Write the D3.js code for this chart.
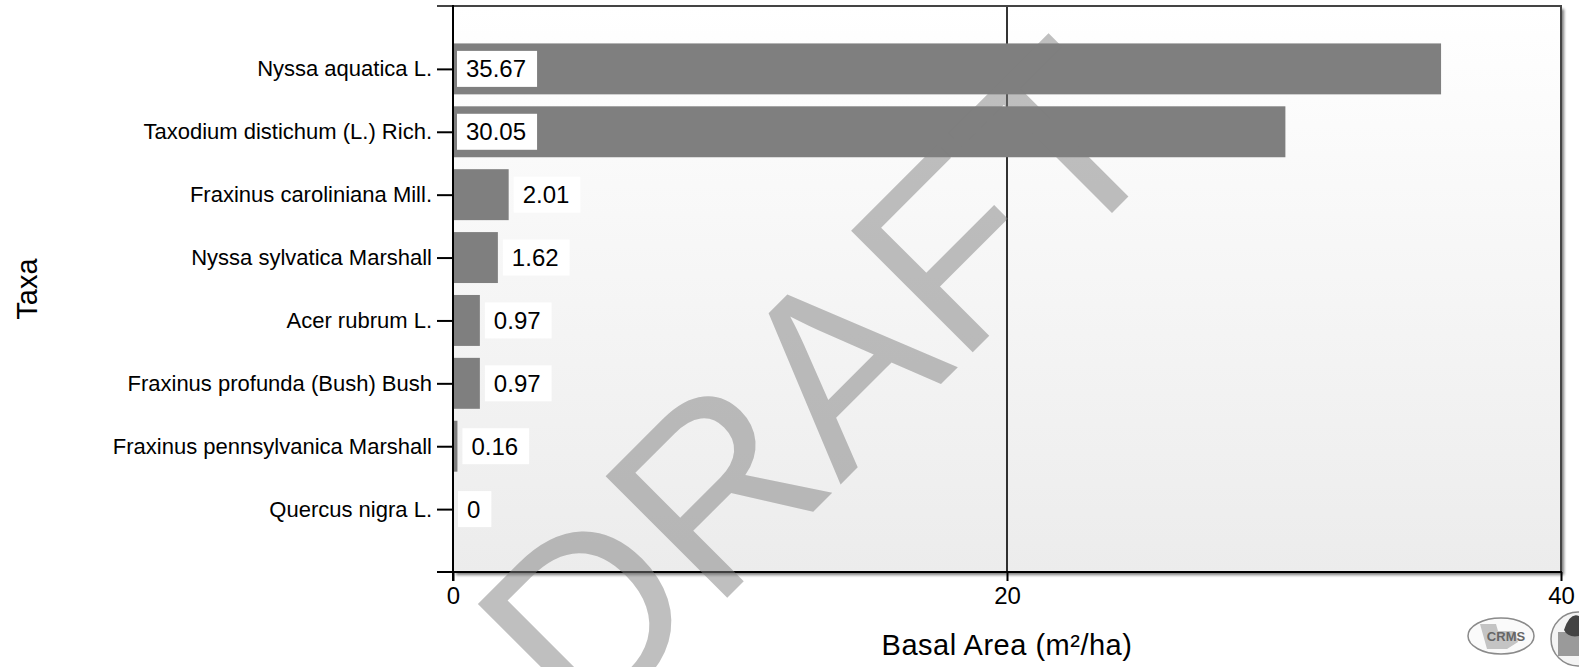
<!DOCTYPE html>
<html>
<head>
<meta charset="utf-8">
<script src="https://cdn.jsdelivr.net/npm/d3@7"></script>
<style>
  html, body { margin: 0; padding: 0; background: #fff; }
  svg { display: block; font-family: "Liberation Sans", Arial, sans-serif; }
</style>
</head>
<body>
<svg id="chart" width="1579" height="667"></svg>
<script>
// Basal area by taxon
const categories = [
  "Nyssa aquatica L.",
  "Taxodium distichum (L.) Rich.",
  "Fraxinus caroliniana Mill.",
  "Nyssa sylvatica Marshall",
  "Acer rubrum L.",
  "Fraxinus profunda (Bush) Bush",
  "Fraxinus pennsylvanica Marshall",
  "Quercus nigra L."
];
const values = [35.67, 30.05, 2.01, 1.62, 0.97, 0.97, 0.16, 0];
const valueLabels = ["35.67", "30.05", "2.01", "1.62", "0.97", "0.97", "0.16", "0"];
const xTicks = [0, 20, 40];
const xTitle = "Basal Area (m²/ha)";
const yTitle = "Taxa";
const watermark = "DRAFT";

const svg = d3.select("#chart");
const plot = { left: 453, right: 1561, top: 6, bottom: 572 };

const x = d3.scaleLinear().domain([0, 40]).range([plot.left, plot.right]);
const y = d3.scalePoint().domain(categories).range([plot.top, plot.bottom]).padding(1);
const barH = y.step() * 0.81;

// plot background with soft drop shadow
const defs = svg.append("defs");
const grad = defs.append("linearGradient").attr("id", "bg").attr("x1", 0).attr("y1", 0).attr("x2", 0).attr("y2", 1);
grad.append("stop").attr("offset", "0%").attr("stop-color", "#ffffff");
grad.append("stop").attr("offset", "100%").attr("stop-color", "#ececec");
const blur = defs.append("filter").attr("id", "shadow").attr("x", "-5%").attr("y", "-5%").attr("width", "110%").attr("height", "110%");
blur.append("feGaussianBlur").attr("stdDeviation", 1.5);

svg.append("rect")
  .attr("x", plot.left + 3).attr("y", plot.top + 3)
  .attr("width", plot.right - plot.left).attr("height", plot.bottom - plot.top)
  .attr("fill", "#7a7a7a").attr("filter", "url(#shadow)");
svg.append("rect")
  .attr("x", plot.left).attr("y", plot.top)
  .attr("width", plot.right - plot.left).attr("height", plot.bottom - plot.top)
  .attr("fill", "url(#bg)");

// gridline at the middle tick
svg.append("line")
  .attr("x1", x(20)).attr("x2", x(20))
  .attr("y1", plot.top).attr("y2", plot.bottom)
  .attr("stroke", "#000").attr("stroke-width", 1.6);

// bars
svg.append("g").selectAll("rect")
  .data(values)
  .join("rect")
  .attr("x", x(0))
  .attr("y", (d, i) => y(categories[i]) - barH / 2)
  .attr("width", d => x(d) - x(0))
  .attr("height", barH)
  .attr("fill", "#7f7f7f");

// value labels in white boxes
const labelH = 36;
const lab = svg.append("g").selectAll("g")
  .data(values)
  .join("g");
lab.each(function (d, i) {
  const g = d3.select(this);
  const cy = y(categories[i]);
  const t = g.append("text")
    .text(valueLabels[i])
    .attr("font-size", 24)
    .attr("fill", "#000")
    .attr("dy", "0.35em")
    .attr("y", cy);
  const w = t.node().getComputedTextLength();
  const boxW = w + 20;
  const inside = (x(d) - x(0)) > boxW + 10;
  const bx = inside ? x(0) + 4 : x(d) + 5;
  t.attr("x", bx + 9);
  g.insert("rect", "text")
    .attr("x", bx).attr("y", cy - labelH / 2)
    .attr("width", boxW).attr("height", labelH)
    .attr("fill", "#fff");
});

// frame: top and right edges
svg.append("line")
  .attr("x1", plot.left - 16).attr("x2", plot.right + 1)
  .attr("y1", plot.top).attr("y2", plot.top)
  .attr("stroke", "#444").attr("stroke-width", 2);
svg.append("line")
  .attr("x1", plot.right).attr("x2", plot.right)
  .attr("y1", plot.top).attr("y2", plot.bottom)
  .attr("stroke", "#444").attr("stroke-width", 2);

// y axis
const yAxis = svg.append("g")
  .attr("transform", `translate(${plot.left},0)`)
  .call(d3.axisLeft(y).tickSize(16).tickPadding(5));
yAxis.select(".domain").remove();
yAxis.selectAll(".tick line").attr("stroke", "#000").attr("stroke-width", 2);
yAxis.selectAll(".tick text").attr("font-size", 22).attr("fill", "#000")
  .attr("font-family", "'Liberation Sans', Arial, sans-serif");
svg.append("line")
  .attr("x1", plot.left).attr("x2", plot.left)
  .attr("y1", plot.top - 1).attr("y2", plot.bottom + 9)
  .attr("stroke", "#000").attr("stroke-width", 2);

// x axis
const xAxis = svg.append("g")
  .attr("transform", `translate(0,${plot.bottom})`)
  .call(d3.axisBottom(x).tickValues(xTicks).tickSize(9).tickPadding(6).tickFormat(d3.format("d")));
xAxis.select(".domain").remove();
xAxis.selectAll(".tick line").attr("stroke", "#000").attr("stroke-width", 2);
xAxis.selectAll(".tick text").attr("font-size", 24).attr("fill", "#000")
  .attr("font-family", "'Liberation Sans', Arial, sans-serif");
svg.append("line")
  .attr("x1", plot.left - 16).attr("x2", plot.right + 1)
  .attr("y1", plot.bottom).attr("y2", plot.bottom)
  .attr("stroke", "#000").attr("stroke-width", 2);

// axis titles
svg.append("text")
  .attr("x", (plot.left + plot.right) / 2).attr("y", 655)
  .attr("text-anchor", "middle")
  .attr("font-size", 29).attr("letter-spacing", 0.5)
  .attr("fill", "#000")
  .text(xTitle);
svg.append("text")
  .attr("transform", "translate(37,289) rotate(-90)")
  .attr("text-anchor", "middle")
  .attr("font-size", 29)
  .attr("fill", "#000")
  .text(yTitle);

// logos, bottom right
const logo = svg.append("g").attr("fill", "none").attr("stroke", "#8a8a8a");
logo.append("ellipse").attr("cx", 1501).attr("cy", 636).attr("rx", 33).attr("ry", 18).attr("stroke-width", 1.5).attr("fill", "#fafafa");
logo.append("path").attr("d", "M1480,624 L1496,624 L1498,631 L1515,631 L1518,642 L1507,649 L1487,649 Z")
  .attr("fill", "#c4c4c4").attr("stroke", "none");
logo.append("text").attr("x", 1506).attr("y", 641).attr("text-anchor", "middle")
  .attr("font-size", 13).attr("font-weight", "bold").attr("fill", "#666").attr("stroke", "none")
  .text("CRMS");
logo.append("circle").attr("cx", 1578).attr("cy", 639).attr("r", 27).attr("stroke-width", 1.5).attr("fill", "#f4f4f4");
logo.append("path").attr("d", "M1558,632 L1579,632 L1579,656 L1558,656 Z").attr("fill", "#9a9a9a").attr("stroke", "none");
logo.append("path").attr("d", "M1564,630 Q1570,612 1579,616 L1579,636 Q1568,638 1564,630 Z").attr("fill", "#444").attr("stroke", "none");

// watermark across the chart
svg.append("text")
  .attr("transform", "translate(585,740) rotate(-45)")
  .attr("font-size", 250)
  .attr("fill", "#808080")
  .attr("fill-opacity", 0.5)
  .text(watermark);
</script>
</body>
</html>
